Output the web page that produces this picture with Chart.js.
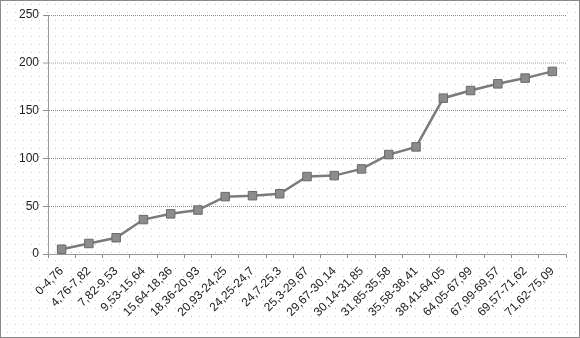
<!DOCTYPE html>
<html><head><meta charset="utf-8">
<script src="https://cdn.jsdelivr.net/npm/chart.js@4/dist/chart.umd.min.js"></script>
<style>
html,body{margin:0;padding:0;background:#fff;}
#wrap{position:relative;width:578px;height:336px;border:1px solid #8a8a8a;background:#fff;}
canvas{position:absolute;left:0;top:0;}
</style></head>
<body><div id="wrap"><canvas id="c" width="578" height="336"></canvas></div>
<script>
const categories = ["0-4,76","4,76-7,82","7,82-9,53","9,53-15,64","15,64-18,36","18,36-20,93","20,93-24,25","24,25-24,7","24,7-25,3","25,3-29,67","29,67-30,14","30,14-31,85","31,85-35,58","35,58-38,41","38,41-64,05","64,05-67,99","67,99-69,57","69,57-71,62","71,62-75,09"];
const values = [5,11,17,36,42,46,60,61,63,81,82,89,104,112,163,171,178,184,191];
const yTicks = [0,50,100,150,200,250];

const dotBg = {
  id: 'dotBg',
  beforeDraw(chart) {
    const ctx = chart.ctx;
    ctx.save();
    ctx.fillStyle = '#c4c4c4';
    for (let y = 3; y < chart.height; y += 8) {
      for (let x = 6; x < chart.width; x += 8) ctx.fillRect(x, y, 1, 1);
    }
    ctx.restore();
  }
};

new Chart(document.getElementById('c'), {
  type: 'line',
  plugins: [dotBg],
  data: { labels: categories, datasets: [{
    data: values, borderColor: '#7b7b7b', borderWidth: 2.5,
    pointStyle: 'rect', pointRadius: 6, pointHoverRadius: 6,
    pointBackgroundColor: '#8c8c8c', pointBorderColor: '#6a6a6a', pointBorderWidth: 1,
    tension: 0
  }]},
  options: {
    responsive: false, animation: false,
    layout: { padding: { top: 14, right: 13, left: 0, bottom: 0 } },
    plugins: { legend: { display: false }, tooltip: { enabled: false } },
    scales: {
      x: {
        offset: true,
        afterFit: s => { s.height = 83; },
        grid: { offset: true, drawOnChartArea: false, drawTicks: true, tickLength: 4, color: '#888' },
        border: { color: '#999', width: 1 },
        ticks: { minRotation: 45, maxRotation: 45, autoSkip: false, color: '#222', padding: 6,
          font: { family: 'Liberation Sans', size: 12 } }
      },
      y: {
        min: 0, max: 250,
        afterBuildTicks: s => { s.ticks = yTicks.map(v => ({ value: v })); },
        afterFit: s => { s.width = 47; },
        grid: { color: ctx => ctx.tick && ctx.tick.value === 200 ? '#cccccc' : '#8c8c8c',
                lineWidth: ctx => ctx.tick && ctx.tick.value === 200 ? 2 : 1,
                drawTicks: true, tickLength: 5 },
        border: { color: '#999', dash: [1, 1] },
        ticks: { color: '#222', padding: 4, font: { family: 'Liberation Sans', size: 12 } }
      }
    }
  }
});
</script></body></html>
